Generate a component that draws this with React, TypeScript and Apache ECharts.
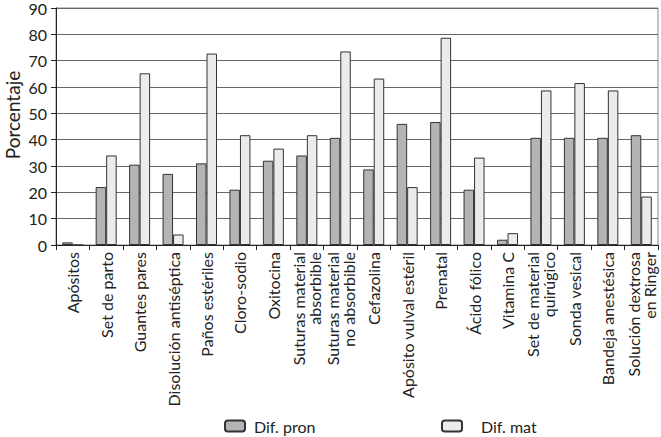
import React, { useEffect, useRef } from "react";
import * as echarts from "echarts";

const categories = [
  "Apósitos",
  "Set de parto",
  "Guantes pares",
  "Disolución antiséptica",
  "Paños estériles",
  "Cloro-sodio",
  "Oxitocina",
  "Suturas material\nabsorbible",
  "Suturas material\nno absorbible",
  "Cefazolina",
  "Apósito vulval estéril",
  "Prenatal",
  "Ácido fólico",
  "Vitamina C",
  "Set de material\nquirúgico",
  "Sonda vesical",
  "Bandeja anestésica",
  "Solución dextrosa\nen Ringer",
];

const difPron = [1, 22, 30.5, 27, 31, 21, 32, 34, 40.7, 28.7, 46, 46.7, 21, 2, 40.7, 40.7, 40.7, 41.7];
const difMat = [0, 34, 65.2, 4, 72.7, 41.7, 36.6, 41.7, 73.5, 63.2, 22, 78.7, 33.2, 4.5, 58.7, 61.5, 58.7, 18.4];

const FONT = "Lato";

export default function App() {
  const ref = useRef<HTMLDivElement>(null);
  useEffect(() => {
    if (!ref.current) return;
    const chart = echarts.init(ref.current, undefined, { renderer: "svg" });
    chart.setOption({
      animation: false,
      textStyle: { fontFamily: FONT, color: "#222" },
      grid: {
        left: 56,
        right: 3,
        top: 6,
        bottom: 192,
        show: true,
        borderColor: "#888",
        borderWidth: 1,
        containLabel: false,
      },
      graphic: [
        {
          type: "text",
          x: 12,
          y: 115,
          rotation: Math.PI / 2,
          style: {
            text: "Porcentaje",
            fontFamily: FONT,
            fontSize: 19,
            fill: "#222",
            textAlign: "center",
            textVerticalAlign: "middle",
          },
        },
      ],
      legend: [
        {
          left: 224,
          top: 418,
          padding: 0,
          itemWidth: 20,
          itemHeight: 11,
          data: ["Dif. pron"],
          textStyle: { fontFamily: FONT, fontSize: 16, color: "#222", padding: [0, 0, 0, 4] },
        },
        {
          left: 441,
          top: 418,
          padding: 0,
          itemWidth: 20,
          itemHeight: 11,
          data: ["Dif. mat"],
          textStyle: { fontFamily: FONT, fontSize: 16, color: "#222", padding: [0, 0, 0, 14] },
        },
      ],
      xAxis: {
        type: "category",
        data: categories,
        axisLine: { lineStyle: { color: "#222" } },
        axisTick: { show: true, length: 5, lineStyle: { color: "#222" }, alignWithLabel: false },
        axisLabel: {
          interval: 0,
          rotate: 90,
          fontFamily: FONT,
          fontSize: 16,
          color: "#222",
          margin: 7,
          lineHeight: 16,
        },
      },
      yAxis: {
        type: "value",
        min: 0,
        max: 90,
        interval: 10,
        axisLine: { show: true, lineStyle: { color: "#222" } },
        axisTick: { show: true, length: 5, lineStyle: { color: "#222" } },
        axisLabel: { fontFamily: FONT, fontSize: 16, color: "#222", margin: 9 },
        splitLine: { lineStyle: { color: "#666", width: 1 } },
      },
      series: [
        {
          name: "Dif. pron",
          type: "bar",
          data: difPron,
          barWidth: 10.5,
          barGap: "0%",
          itemStyle: { color: "#b4b4b4", borderColor: "#333", borderWidth: 1 },
        },
        {
          name: "Dif. mat",
          type: "bar",
          data: difMat,
          barWidth: 10.5,
          barGap: "0%",
          itemStyle: { color: "#ebebeb", borderColor: "#333", borderWidth: 1 },
        },
      ],
    });
    return () => chart.dispose();
  }, []);
  return <div ref={ref} style={{ width: 661, height: 437, position: "absolute", left: 0, top: 0 }} />;
}
